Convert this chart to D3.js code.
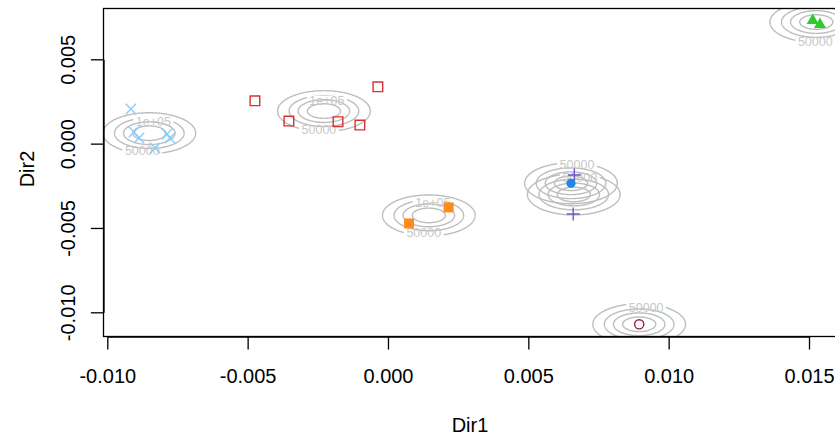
<!DOCTYPE html>
<html>
<head>
<meta charset="utf-8">
<script src="https://cdn.jsdelivr.net/npm/d3@7"></script>
<style>
body { margin: 0; background: #fff; }
text { font-family: "Liberation Sans", Arial, Helvetica, sans-serif; }
</style>
</head>
<body>
<div id="chart"></div>
<script>
// tick values on both axes
const xTicks = [-0.010, -0.005, 0.000, 0.005, 0.010, 0.015];
const yTicks = [-0.010, -0.005, 0.000, 0.005];

// groups: plotting symbol and colour
const groups  = ["g1", "g2", "g3", "g4", "g5", "g6", "g7"];
const shapes  = ["cross", "squareOpen", "squareFill", "dot", "plus", "circleOpen", "triangle"];
const colours = ["#87cefa", "#d93030", "#ff8c1a", "#1e88e5", "#6a5acd", "#9b1b4b", "#2dcc2d"];

// points of every group (Dir1 / Dir2)
const dir1 = [
  [-0.00916, -0.00905, -0.00887, -0.00787, -0.00777, -0.00830],
  [-0.00474, -0.00353, -0.00178, -0.00100, -0.00036],
  [0.00075, 0.00216],
  [0.00652],
  [0.00664, 0.00660],
  [0.00895],
  [0.01513, 0.01539]
];
const dir2 = [
  [0.00205, 0.00069, 0.00033, 0.00057, 0.00033, -0.00026],
  [0.00254, 0.00134, 0.00130, 0.00110, 0.00337],
  [-0.00473, -0.00378],
  [-0.00235],
  [-0.00186, -0.00417],
  [-0.01071],
  [0.00733, 0.00709]
];

// density model for the contour rings (same spread for every group)
const sd1 = 0.000926, sd2 = 0.00068, peak = 245000;
const levels = [50000, 100000, 150000, 200000];

// which ring gets a label: [group index, level]
const labelled = [[0, 50000], [0, 100000], [1, 50000], [1, 100000], [2, 50000], [2, 100000],
                  [3, 50000], [4, 50000], [5, 50000], [6, 50000]];
// where the label sits, px offset from the group centre (layout only)
const labelOffsets = [[-7, 17], [4, -12], [-5, 19], [3, -10], [-5, 17.5], [4, -12.5],
                      [6, -19], [6, -17], [7, -17], [-1, 20]];

const W = 835, H = 436;
const box = { left: 103.5, top: 8.5, right: 838, bottom: 336.5 };

const x = d3.scaleLinear().domain([-0.010, 0.015]).range([107.3, 809]);
const y = d3.scaleLinear().domain([-0.010, 0.005]).range([312.3, 59.3]);

const svg = d3.select("#chart").append("svg")
    .attr("width", W).attr("height", H);
svg.append("rect").attr("width", W).attr("height", H).attr("fill", "#fff");

const defs = svg.append("defs");
defs.append("clipPath").attr("id", "plotclip")
  .append("rect")
    .attr("x", box.left).attr("y", box.top)
    .attr("width", box.right - box.left).attr("height", box.bottom - box.top);

// R style number for contour labels: 50000, 1e+05
const fmt = v => {
  if (v < 1e5) return String(v);
  const e = Math.floor(Math.log10(v));
  return (v / 10 ** e) + "e+" + String(e).padStart(2, "0");
};

const centres = groups.map((g, i) => [d3.mean(dir1[i]), d3.mean(dir2[i])]);

const ringG  = svg.append("g").attr("clip-path", "url(#plotclip)");
const labelG = svg.append("g").attr("clip-path", "url(#plotclip)");
const pointG = svg.append("g");

// labels first, so their size is known for the gaps in the rings
const labelBoxes = {};
labelled.forEach((l, k) => {
  const c = centres[l[0]];
  const lx = x(c[0]) + labelOffsets[k][0];
  const ly = y(c[1]) + labelOffsets[k][1];
  const t = labelG.append("text")
      .attr("x", lx).attr("y", ly + 4.4)
      .attr("text-anchor", "middle")
      .attr("font-size", 12.5)
      .attr("fill", "#c8c8c8")
      .text(fmt(l[1]));
  const w = t.node().getComputedTextLength();
  labelBoxes[l[0] + "_" + l[1]] = { x: lx - w / 2 - 2.5, y: ly - 5.5, w: w + 5, h: 11 };
});

// contour rings of each group
const step = 0.5;
centres.forEach((c, i) => {
  const cx = x(c[0]), cy = y(c[1]);
  const x0 = cx - 64, y0 = cy - 34;
  const nx = Math.ceil(128 / step), ny = Math.ceil(68 / step);
  const vals = new Float64Array(nx * ny);
  for (let j = 0; j < ny; j++) {
    for (let k = 0; k < nx; k++) {
      const dx = (x.invert(x0 + (k + 0.5) * step) - c[0]) / sd1;
      const dy = (y.invert(y0 + (j + 0.5) * step) - c[1]) / sd2;
      vals[j * nx + k] = peak * Math.exp(-0.5 * (dx * dx + dy * dy));
    }
  }
  const rings = d3.contours().size([nx, ny]).thresholds(levels)(vals);
  const path = d3.geoPath(d3.geoIdentity().scale(step).translate([x0, y0]));

  rings.forEach(r => {
    const p = ringG.append("path")
        .attr("d", path(r))
        .attr("fill", "none")
        .attr("stroke", "#bebebe")
        .attr("stroke-width", 1.4);
    const b = labelBoxes[i + "_" + r.value];
    if (b) {
      const id = "gap" + i + "_" + r.value;
      const m = defs.append("mask").attr("id", id)
          .attr("maskUnits", "userSpaceOnUse")
          .attr("x", 0).attr("y", 0).attr("width", W).attr("height", H);
      m.append("rect").attr("width", W).attr("height", H).attr("fill", "#fff");
      m.append("rect").attr("x", b.x).attr("y", b.y)
          .attr("width", b.w).attr("height", b.h).attr("fill", "#000");
      p.attr("mask", "url(#" + id + ")");
    }
  });
});

// plotting symbols
const symbolPath = {
  cross:      "M-5.2,-5.2L5.2,5.2M-5.2,5.2L5.2,-5.2",
  plus:       "M-6.5,0H6.5M0,-6.5V6.5",
  squareOpen: "M-4.8,-4.8H4.8V4.8H-4.8Z",
  squareFill: "M-5,-5H5V5H-5Z",
  circleOpen: "M4.6,0A4.6,4.6 0 1,1 -4.6,0A4.6,4.6 0 1,1 4.6,0Z",
  dot:        "M4.6,0A4.6,4.6 0 1,1 -4.6,0A4.6,4.6 0 1,1 4.6,0Z",
  triangle:   "M0,-6.6L6,4L-6,4Z"
};
const filled = { squareFill: true, dot: true, triangle: true };

groups.forEach((g, i) => {
  const pts = dir1[i].map((v, k) => [v, dir2[i][k]]);
  pointG.selectAll(null)
    .data(pts)
    .enter()
    .append("path")
      .attr("transform", d => `translate(${x(d[0])},${y(d[1])})`)
      .attr("d", symbolPath[shapes[i]])
      .attr("fill", filled[shapes[i]] ? colours[i] : "none")
      .attr("stroke", filled[shapes[i]] ? "none" : colours[i])
      .attr("stroke-width", 1.4);
});

// plot frame
svg.append("rect")
    .attr("x", box.left).attr("y", box.top)
    .attr("width", box.right - box.left).attr("height", box.bottom - box.top)
    .attr("fill", "none").attr("stroke", "#000").attr("stroke-width", 1.3);

// axes
const xAxis = svg.append("g")
    .attr("transform", `translate(0,${box.bottom})`)
    .call(d3.axisBottom(x).tickValues(xTicks).tickSize(13).tickSizeOuter(0));
xAxis.selectAll("text")
    .attr("y", 46).attr("dy", null)
    .attr("font-size", 20).attr("fill", "#000")
    .text(d => d3.format(".3f")(d).replace("−", "-"));

const yAxis = svg.append("g")
    .attr("transform", `translate(${box.left},0)`)
    .call(d3.axisLeft(y).tickValues(yTicks).tickSize(12.6).tickSizeOuter(0));
yAxis.selectAll("text")
    .attr("transform", "rotate(-90)")
    .attr("x", 0).attr("y", -28.5).attr("dy", null)
    .attr("text-anchor", "middle")
    .attr("font-size", 20).attr("fill", "#000")
    .text(d => d3.format(".3f")(d).replace("−", "-"));

svg.selectAll(".domain, .tick line").attr("stroke", "#000").attr("stroke-width", 1.3);

// axis titles
svg.append("text")
    .attr("x", 470).attr("y", 432)
    .attr("text-anchor", "middle").attr("font-size", 20)
    .text("Dir1");
svg.append("text")
    .attr("transform", "translate(34,169) rotate(-90)")
    .attr("text-anchor", "middle").attr("font-size", 20)
    .text("Dir2");
</script>
</body>
</html>
